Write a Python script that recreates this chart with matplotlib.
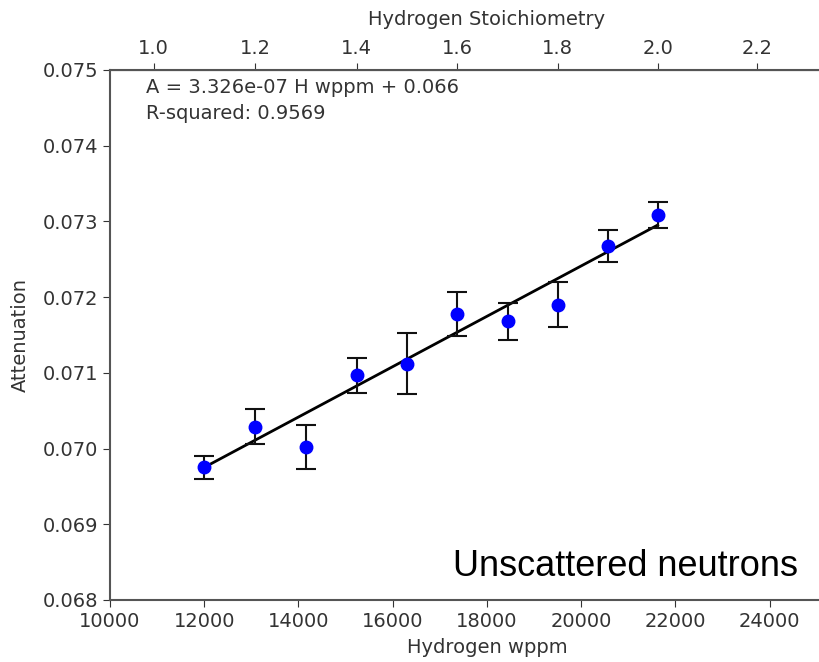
import numpy as np
import matplotlib
matplotlib.use("Agg")
from matplotlib import pyplot as plt

# hydrogen content of the samples (wppm) and measured attenuation
h_wppm = [11999, 13086, 14162, 15234, 16304, 17372, 18438, 19501, 20563, 21622]
attenuation = [0.06975, 0.07029, 0.07002, 0.07097, 0.07112,
               0.07178, 0.07168, 0.07190, 0.07267, 0.07308]
att_err = [0.00015, 0.00023, 0.00029, 0.00023, 0.00040,
           0.00029, 0.00024, 0.00030, 0.00021, 0.00017]

# linear fit shown in the figure
slope = 3.326e-07
intercept = 0.06576
fit_label = "A = 3.326e-07 H wppm + 0.066"
r2_label = "R-squared: 0.9569"

x_ticks = [10000, 12000, 14000, 16000, 18000, 20000, 22000, 24000]
y_ticks = [0.068, 0.069, 0.070, 0.071, 0.072, 0.073, 0.074, 0.075]
stoich_ticks = [1.0, 1.2, 1.4, 1.6, 1.8, 2.0, 2.2]

M_ZR = 91.224
M_H = 1.008


def wppm_to_stoich(w):
    w = np.asarray(w, dtype=float)
    return M_ZR * w / (M_H * (1e6 - w))


def stoich_to_wppm(x):
    x = np.asarray(x, dtype=float)
    return M_H * x / (M_ZR + M_H * x) * 1e6


fs = 14
fig = plt.figure(figsize=(8.19, 6.62), dpi=100)
ax = fig.add_axes([0.1343, 0.0937, 0.9206, 0.8006])

xs = np.array([h_wppm[0], h_wppm[-1]])
ax.plot(xs, slope * xs + intercept, color="k", lw=2, zorder=2)
ax.errorbar(h_wppm, attenuation, yerr=att_err, fmt="o", color="blue",
            markersize=9, ecolor="#111111", elinewidth=1.5, capsize=7,
            capthick=1.5, zorder=3)

ax.set_xlim(10000, 26000)
ax.set_ylim(0.068, 0.075)
ax.set_xticks(x_ticks)
ax.set_yticks(y_ticks)
ax.set_yticklabels(["%.3f" % v for v in y_ticks])
ax.tick_params(labelsize=fs, length=5, colors="#333333")
ax.set_xlabel("Hydrogen wppm", fontsize=fs, color="#333333", labelpad=5)
ax.set_ylabel("Attenuation", fontsize=fs, color="#333333", labelpad=9)
for s in ax.spines.values():
    s.set_color("#555555")
    s.set_linewidth(1.5)

top = ax.secondary_xaxis("top", functions=(wppm_to_stoich, stoich_to_wppm))
top.set_xticks(stoich_ticks)
top.tick_params(labelsize=fs, length=5, colors="#333333")
top.set_xlabel("Hydrogen Stoichiometry", fontsize=fs, color="#333333", labelpad=10)

ax.text(0.0477, 0.967, fit_label, transform=ax.transAxes, fontsize=fs,
        color="#333333", va="center")
ax.text(0.0477, 0.918, r2_label, transform=ax.transAxes, fontsize=fs,
        color="#333333", va="center")

fig.text(453 / 819, 1 - 566 / 662, "Unscattered neutrons", fontsize=26,
         family="Liberation Sans", color="black", va="center")

fig.savefig("out.png", dpi=100)
